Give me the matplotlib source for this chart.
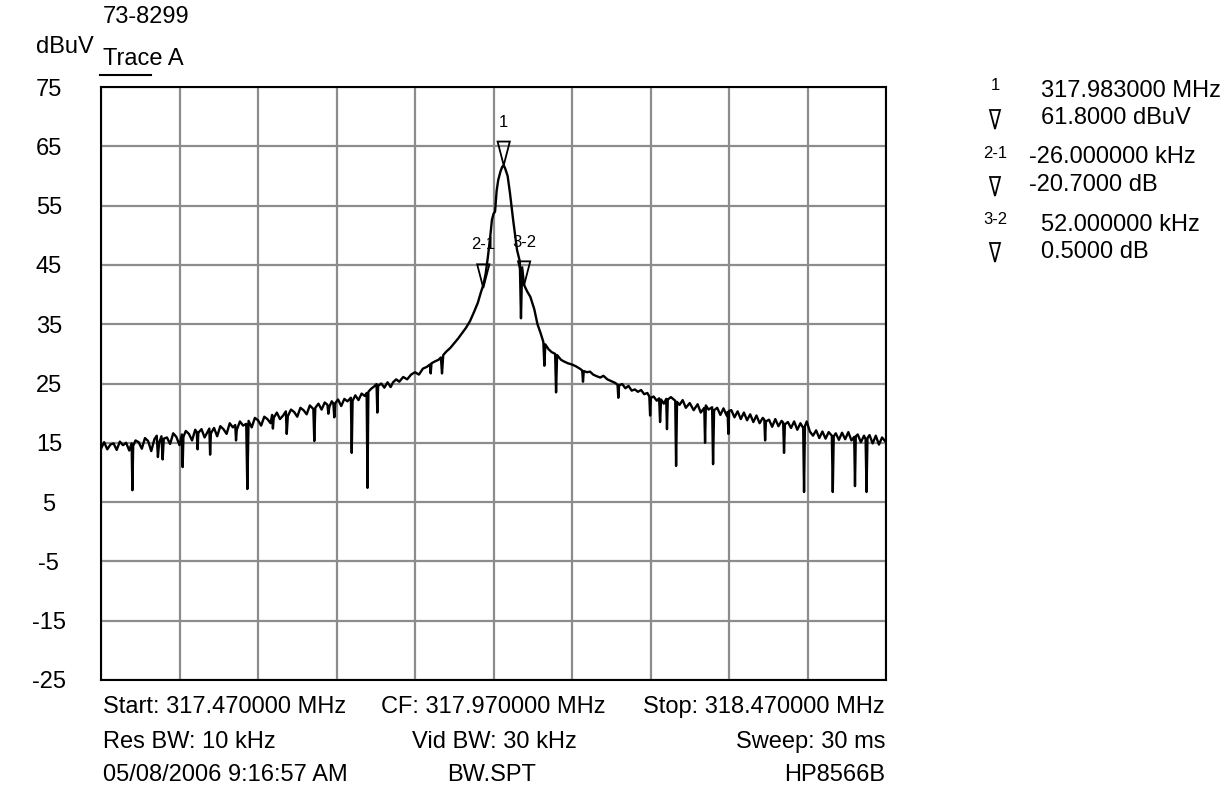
import numpy as np
import matplotlib
matplotlib.use("Agg")
import matplotlib.pyplot as plt
from matplotlib.lines import Line2D
from matplotlib.patches import Polygon

# ---------------- data ----------------
start_mhz = 317.47
stop_mhz = 318.47
y_ticks = [75, 65, 55, 45, 35, 25, 15, 5, -5, -15, -25]

# trace: frequency offset from start (kHz) and level (dBuV)
trace_khz = [
    0, 4, 8, 12, 16, 20, 24, 28, 32, 36,
    39, 40, 41, 44, 48, 52, 56, 60, 64, 68,
    71, 72.5, 74, 77, 78.5, 80, 84, 88, 92, 96,
    100, 103, 104, 105, 108, 112, 116, 120, 122, 123,
    124, 128, 132, 136, 138, 139, 140, 144, 148, 152,
    156, 160, 164, 168, 171, 172, 173, 177, 181, 185,
    186.4, 188, 192, 196, 200, 204, 208, 212, 216, 218,
    219, 220, 224, 228, 232, 235.5, 236.6, 238, 242, 246,
    250, 254, 258, 262, 266, 270.5, 271.7, 273, 277, 281,
    285, 288.5, 289.6, 291, 294, 296, 297.2, 298.5, 302, 306,
    310, 314, 318.3, 319.4, 320.5, 324, 328, 332, 336, 338.4,
    339.5, 340.6, 344, 348, 351, 352, 353, 357, 361, 365,
    369, 372, 376, 380, 385, 390, 395, 400, 405, 410,
    415, 419, 420, 421, 425, 430, 433, 434.4, 436, 440,
    445, 450, 455, 460, 465, 470, 475, 480, 484, 487,
    490, 493, 496, 498, 500, 502, 504, 506, 509, 511,
    513, 515, 518, 521, 525, 530, 533.5, 535, 536.5, 539,
    543, 547, 552, 556, 560, 563.5, 564.8, 566, 570, 574,
    578.5, 579.7, 581, 586, 590, 595, 600, 605, 610, 613,
    614, 615, 619, 623, 627, 632, 636, 640, 645, 650,
    655, 658, 659, 660, 664, 668, 672, 676, 680, 684,
    688, 692, 696, 698.5, 699.5, 700.5, 704, 708, 711, 712.2,
    713.5, 717, 720, 721, 722, 726, 731.5, 732.6, 733.8, 737,
    741, 745, 750, 755, 760, 764, 768.5, 769.5, 770.5, 774,
    778.5, 779.7, 781, 785, 789, 793, 797, 798.2, 799.2, 800.2,
    803, 807, 811, 815, 819, 823, 827, 831, 835, 839,
    843, 845, 846, 847, 851, 855, 859, 863, 867, 869,
    870.1, 871.2, 875, 879, 883, 887, 891, 894.5, 895.6, 896.7,
    899, 903, 907, 911, 915, 919, 923, 927, 931, 932.2,
    933.4, 936, 940, 944, 948, 952, 956, 959.5, 960.5, 961.5,
    964, 968, 972, 974, 975.2, 976.4, 979, 983, 987, 991,
    995, 1000]
trace_dbuv = [
    14.0, 15.1, 13.9, 14.7, 14.9, 13.8, 15.2, 14.6, 15.0, 13.7,
    14.9, 7.0, 14.5, 15.4, 15.1, 14.0, 15.8, 15.3, 13.6, 15.6,
    16.2, 12.6, 15.0, 16.1, 12.2, 15.7, 15.9, 14.8, 16.6, 16.0,
    14.6, 16.4, 10.9, 16.0, 17.0, 16.5, 15.4, 17.2, 16.8, 13.9,
    16.7, 17.3, 15.9, 16.9, 17.4, 13.0, 16.6, 17.5, 16.1, 17.8,
    17.3, 16.5, 18.3, 17.6, 18.0, 15.4, 17.2, 18.6, 17.9, 18.2,
    7.2, 18.7, 17.6, 19.2, 18.8, 17.9, 19.4, 19.0, 18.3, 19.7,
    17.4, 19.2, 20.1, 19.0, 19.6, 20.3, 16.5, 19.5, 20.6, 20.2,
    19.4, 20.9, 20.5, 19.8, 21.3, 20.7, 15.3, 20.9, 21.6, 20.6,
    21.8, 21.4, 19.9, 21.1, 22.0, 21.6, 19.3, 21.7, 22.3, 21.2,
    22.4, 22.0, 22.6, 13.3, 22.1, 23.0, 22.2, 23.3, 22.9, 23.4,
    7.4, 23.6, 24.1, 24.5, 24.9, 20.1, 24.6, 25.0, 24.3, 25.2,
    24.4, 25.2, 25.7, 25.3, 26.1, 25.7, 26.5, 26.9, 26.5, 27.5,
    27.8, 28.2, 26.7, 28.4, 28.7, 29.0, 29.4, 26.7, 29.8, 30.4,
    31.0, 31.8, 32.6, 33.5, 34.4, 35.5, 37.0, 38.6, 40.4, 41.6,
    43.5, 46.5, 50.0, 52.6, 53.6, 54.0, 57.5, 59.3, 60.8, 61.5,
    61.8, 61.2, 60.0, 57.1, 52.6, 47.5, 45.6, 36.0, 44.6, 41.6,
    40.5, 39.6, 37.5, 35.0, 33.5, 32.0, 28.0, 31.6, 30.8, 30.3,
    30.0, 23.5, 29.8, 29.0, 28.7, 28.4, 28.2, 27.9, 27.5, 27.2,
    25.3, 27.1, 26.9, 27.0, 26.5, 26.2, 26.0, 26.3, 25.7, 25.4,
    25.1, 24.8, 22.6, 24.7, 24.9, 24.2, 24.6, 23.8, 24.0, 23.6,
    23.9, 23.2, 23.4, 22.8, 19.6, 22.6, 22.8, 22.1, 22.5, 18.5,
    22.3, 21.6, 22.4, 17.3, 22.3, 22.7, 22.1, 11.1, 21.9, 21.4,
    22.2, 20.9, 21.7, 20.5, 21.5, 20.1, 20.9, 15.0, 21.3, 20.6,
    21.0, 11.4, 20.5, 20.9, 19.7, 20.8, 19.6, 20.2, 16.5, 20.4,
    20.5, 19.3, 20.3, 19.0, 20.1, 18.8, 19.8, 18.5, 19.6, 18.3,
    19.2, 18.9, 15.4, 18.6, 18.9, 17.7, 19.0, 17.8, 18.7, 18.4,
    13.3, 18.1, 18.5, 17.5, 18.6, 17.2, 18.3, 17.5, 6.7, 17.8,
    18.6, 16.9, 16.2, 17.1, 15.8, 16.9, 15.7, 16.8, 16.2, 6.7,
    16.1, 16.6, 15.5, 16.7, 15.6, 16.8, 15.4, 16.0, 7.7, 16.1,
    16.4, 15.1, 16.2, 15.6, 6.7, 15.8, 16.3, 14.9, 16.2, 14.7,
    15.9, 15.1]

# markers
marker_names = ["1", "2-1", "3-2"]
marker_mhz = [317.983, 317.957, 318.009]
marker_dbuv = [61.8, 41.1, 41.6]
legend_line1 = ["317.983000 MHz", "-26.000000 kHz", "52.000000 kHz"]
legend_line2 = ["61.8000 dBuV", "-20.7000 dB", "0.5000 dB"]

# ---------------- figure ----------------
W, H = 1230, 786
fig = plt.figure(figsize=(W / 100, H / 100), dpi=100)
FONT = "Liberation Sans"
plt.rcParams["font.family"] = [FONT, "DejaVu Sans"]


def fx(px):
    return px / W


def fy(py):
    return 1 - py / H


L, R, T, B = 101, 886, 87, 680
ax = fig.add_axes([fx(L), fy(B), fx(R) - fx(L), fy(T) - fy(B)])

freq = start_mhz + np.array(trace_khz) / 1000.0
ax.plot(freq, trace_dbuv, color="black", lw=1.7, zorder=3)

ax.set_xlim(start_mhz, stop_mhz)
ax.set_ylim(-25, 75)
ax.set_xticks(np.linspace(start_mhz, stop_mhz, 11))
ax.set_xticklabels([])
ax.set_yticks(y_ticks)
ax.set_yticklabels([str(v) for v in y_ticks], fontsize=17, ha="center")
ax.tick_params(axis="both", length=0)
ax.tick_params(axis="y", pad=37.5)
ax.grid(True, color="#8c8c8c", lw=1.6, zorder=1)
for s in ax.spines.values():
    s.set_color("black")
    s.set_linewidth(1.5)
    s.set_zorder(4)

# marker triangles on the trace
half_w = 0.0078   # MHz
tri_h = 4.0       # dB
for name, mf, mv in zip(marker_names, marker_mhz, marker_dbuv):
    tri = Polygon([[mf, mv], [mf - half_w, mv + tri_h], [mf + half_w, mv + tri_h]],
                  closed=True, fill=False, edgecolor="black", lw=1.3, zorder=5)
    ax.add_patch(tri)
    ax.annotate(name, (mf, mv), xytext=(0, 31), textcoords="offset points",
                ha="center", va="center", fontsize=12)

# header texts
fig.text(fx(103), fy(17), "73-8299", fontsize=17, ha="left", va="center")
fig.text(fx(36), fy(47), "dBuV", fontsize=17, ha="left", va="center")
fig.text(fx(103), fy(59), "Trace A", fontsize=17, ha="left", va="center")
fig.add_artist(Line2D([fx(100), fx(151)], [fy(75), fy(75)], color="black", lw=1.5))

# footer texts
rows = [707, 742, 775]
fig.text(fx(103), fy(rows[0]), "Start: 317.470000 MHz", fontsize=17, ha="left", va="center")
fig.text(fx(493), fy(rows[0]), "CF: 317.970000 MHz", fontsize=17, ha="center", va="center")
fig.text(fx(885), fy(rows[0]), "Stop: 318.470000 MHz", fontsize=17, ha="right", va="center")
fig.text(fx(103), fy(rows[1]), "Res BW: 10 kHz", fontsize=17, ha="left", va="center")
fig.text(fx(494), fy(rows[1]), "Vid BW: 30 kHz", fontsize=17, ha="center", va="center")
fig.text(fx(885), fy(rows[1]), "Sweep: 30 ms", fontsize=17, ha="right", va="center")
fig.text(fx(103), fy(rows[2]), "05/08/2006 9:16:57 AM", fontsize=17, ha="left", va="center")
fig.text(fx(492), fy(rows[2]), "BW.SPT", fontsize=17, ha="center", va="center")
fig.text(fx(885), fy(rows[2]), "HP8566B", fontsize=17, ha="right", va="center")

# marker legend on the right
label_y = [85, 153, 220]
tri_top = [110, 177, 243]
line1_x = [1041, 1029, 1041]
line1_y = [91, 157, 225]
line2_y = [118, 185, 252]
for i in range(3):
    fig.text(fx(995), fy(label_y[i]), marker_names[i], fontsize=12, ha="center", va="center")
    t0 = tri_top[i]
    fig.add_artist(Polygon([[fx(990), fy(t0)], [fx(1000), fy(t0)], [fx(995), fy(t0 + 19)]],
                           closed=True, fill=False, edgecolor="black", lw=1.3))
    fig.text(fx(line1_x[i]), fy(line1_y[i]), legend_line1[i], fontsize=17, ha="left", va="center")
    fig.text(fx(line1_x[i]), fy(line2_y[i]), legend_line2[i], fontsize=17, ha="left", va="center")

fig.savefig("out.png", dpi=100, facecolor="white")
